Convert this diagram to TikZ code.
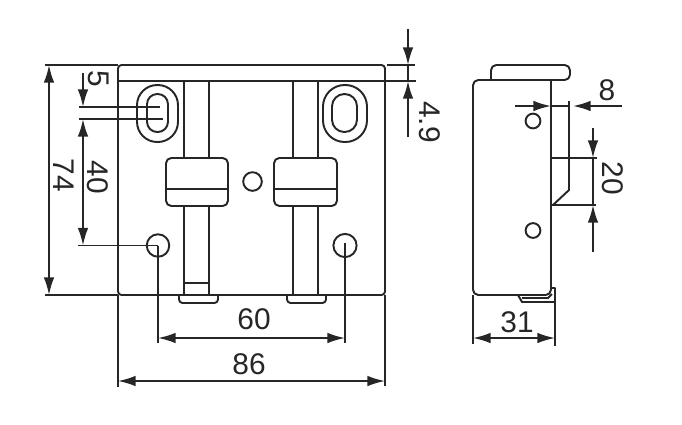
\documentclass[tikz,border=0pt]{standalone}
\usepackage{fontspec}
\setmainfont{Liberation Sans}
\usetikzlibrary{arrows.meta}
\tikzset{
  part/.style={line width=1.1pt,line join=round},
  dimline/.style={line width=1pt,>={Latex[length=10pt,width=6pt]}},
  dimtext/.style={font=\fontsize{17}{19}\selectfont,text=black!85,inner sep=0pt},
  dimvert/.style={dimtext,rotate=-90}
}
\begin{document}
\begin{tikzpicture}[x=0.02cm,y=-0.02cm,color=black!85]
\useasboundingbox (0,0) rectangle (682,424);
% front view
\draw[part,rounded corners=2pt] (118,295) -- (118,65) -- (385,65) -- (385,295) -- cycle;
\draw[part] (118,81) -- (385,81);
\foreach \xa/\xb/\footl/\footr in {184/209/179/218,293/318/287/326}{
  \draw[part] (\xa,81) -- (\xa,158) (\xb,81) -- (\xb,158);
  \draw[part] (\xa,206) -- (\xa,295) (\xb,206) -- (\xb,295);
  \draw[part,rounded corners=2pt] (\footl,295) -- (\footl,303) -- (\footr,303) -- (\footr,295);
}
\draw[part] (184,283) -- (209,283);
\foreach \xa/\xb in {166/228,274/337}{
  \draw[part,rounded corners=3pt] (\xa,158) rectangle (\xb,206);
  \draw[part] (\xa,189) -- (\xb,189);
}
% slots and holes
\draw[part,rounded corners=11.5pt] (137,85) rectangle (178,142);
\draw[part,rounded corners=5.8pt] (147,94) rectangle (168,132);
\draw[part,rounded corners=12.3pt] (323,85) rectangle (367,142);
\draw[part,rounded corners=7pt] (332,94) rectangle (357,132);
\node[part,draw,circle,minimum size=10.6pt,inner sep=0pt] (holemid) at (252.5,181.5) {};
\node[part,draw,circle,minimum size=12.8pt,inner sep=0pt] (holeL) at (158,245.5) {};
\node[part,draw,circle,minimum size=13.2pt,inner sep=0pt] (holeR) at (345,245.5) {};
% side view
\draw[part,rounded corners=3pt] (491,80) -- (491,65) -- (570,65) -- (570,80) -- (473,80) -- (473,295) -- (518,295);
\draw[part] (551,80) -- (551,280);
\draw[part,rounded corners=3pt] (551,280) -- (551,295) -- (518,295);
\draw[part] (518,295) -- (522,302) -- (555,302) -- (555,288) -- (551,288);
\draw[part] (522,298) -- (548,298) -- (552,294);
\draw[part] (551,158) -- (569,158) (551,205) -- (569,205);
\draw[part] (569,101) -- (569,190) -- (553,205);
\node[part,draw,circle,minimum size=8.4pt,inner sep=0pt] (holeA) at (533,121) {};
\node[part,draw,circle,minimum size=8.4pt,inner sep=0pt] (holeB) at (533,230.5) {};
% extension lines
\draw[dimline] (45,65) -- (118,65) (387,65) -- (415,65) (385,81) -- (416,81);
\draw[dimline] (45,295) -- (118,295);
\draw[dimline] (79,107) -- (160,107) (79,119) -- (163,119) (78,245.5) -- (holeL.center);
\draw[dimline] (holeL.center) -- (158,343) (345,243) -- (345,343);
\draw[dimline] (118,295) -- (118,387) (385,295) -- (385,386);
\draw[dimline] (473,295) -- (473,344) (555,302) -- (555,346);
\draw[dimline] (551,106) -- (569,106);
\draw[dimline] (569,158) -- (597,158) (569,205) -- (596,205);
% dimensions
\draw[dimline,<->] (49,65) -- (49,295);
\draw[dimline,->] (83,73) -- (83,107);
\draw[dimline,<->] (83,119) -- (83,245.5);
\draw[dimline] (408,65) -- (408,81);
\draw[dimline,->] (408,29) -- (408,65);
\draw[dimline,->] (408,137) -- (408,81);
\draw[dimline,<->] (158,338) -- (345,338);
\draw[dimline,<->] (118,381) -- (385,381);
\draw[dimline,<->] (473,338) -- (555,338);
\draw[dimline,->] (515,106) -- (551,106);
\draw[dimline,->] (622,106) -- (573,106);
\draw[dimline,->] (593,128) -- (593,158);
\draw[dimline] (593,158) -- (593,205);
\draw[dimline,->] (593,252) -- (593,205);
% labels
\node[dimvert] (lab5) at (99,79) {5};
\node[dimvert] (lab40) at (98,177) {40};
\node[dimvert] (lab74) at (64,175) {74};
\node[dimvert] (lab49) at (430,122) {4.9};
\node[dimvert] (lab20) at (613,178) {20};
\node[dimtext] (lab8) at (607,90) {8};
\node[dimtext] (lab31) at (517,322) {31};
\node[dimtext] (lab60) at (254,319) {60};
\node[dimtext] (lab86) at (249,364) {86};
\end{tikzpicture}
\end{document}
